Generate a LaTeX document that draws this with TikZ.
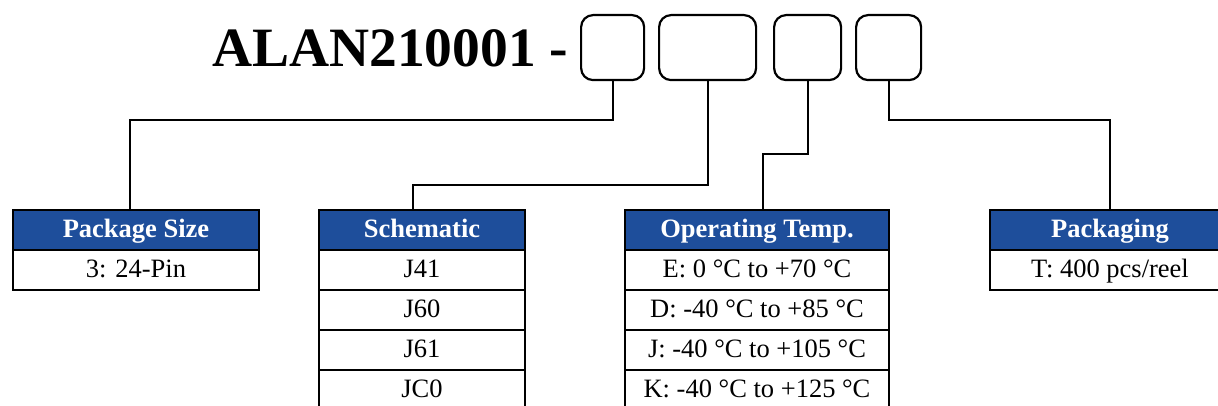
\documentclass[tikz,border=0pt]{standalone}
\usepackage{fontspec}
\setmainfont{Liberation Serif}
\usetikzlibrary{positioning}
\definecolor{hdrblue}{RGB}{30,78,155}
\tikzset{
  codebox/.style={draw, line width=2.2pt, rounded corners=12pt, minimum height=65pt, anchor=north west},
  headcell/.style={draw, line width=2pt, outer sep=0pt, fill=hdrblue, text=white, minimum height=40pt, inner sep=2pt,
    text height=19pt, text depth=5pt, font=\fontsize{26.5}{30}\selectfont\bfseries},
  rowcell/.style={draw, line width=2pt, outer sep=0pt, fill=white, minimum height=40pt, inner sep=2pt,
    text height=19pt, text depth=5pt, font=\fontsize{26.5}{30}\selectfont},
  link/.style={line width=2pt}
}
\begin{document}
\begin{tikzpicture}[x=1pt, y=-1pt]
\useasboundingbox (0,0) rectangle (1218,406);

% Part number
\node[anchor=base west, inner sep=0pt, font=\fontsize{55.5}{60}\selectfont\bfseries] (title) at (212,67) {ALAN210001 -};

% Code boxes
\node[codebox, minimum width=63pt] (b1) at (580,14) {};
\node[codebox, minimum width=97pt] (b2) at (658,14) {};
\node[codebox, minimum width=67pt] (b3) at (773,14) {};
\node[codebox, minimum width=65pt] (b4) at (855,14) {};

% Table headers
\node[headcell, minimum width=246pt, anchor=north west] (hsize) at (13,210) {Package Size};
\node[headcell, minimum width=206pt, anchor=north west] (hschem) at (319,210) {Schematic};
\node[headcell, minimum width=264pt, anchor=north west] (htemp) at (625,210) {Operating Temp.};
\node[headcell, minimum width=240pt, anchor=north west] (hpack) at (990,210) {Packaging};

% Table rows
\node[rowcell, minimum width=246pt, below=0pt of hsize] (size1) {3: 24-Pin};

\node[rowcell, minimum width=206pt, below=0pt of hschem] (schem1) {J41};
\node[rowcell, minimum width=206pt, below=0pt of schem1] (schem2) {J60};
\node[rowcell, minimum width=206pt, below=0pt of schem2] (schem3) {J61};
\node[rowcell, minimum width=206pt, below=0pt of schem3] (schem4) {JC0};

\node[rowcell, minimum width=264pt, below=0pt of htemp] (temp1) {E: 0 °C to +70 °C};
\node[rowcell, minimum width=264pt, below=0pt of temp1] (temp2) {D: -40 °C to +85 °C};
\node[rowcell, minimum width=264pt, below=0pt of temp2] (temp3) {J: -40 °C to +105 °C};
\node[rowcell, minimum width=264pt, below=0pt of temp3] (temp4) {K: -40 °C to +125 °C};

\node[rowcell, minimum width=240pt, below=0pt of hpack] (pack1) {T: 400 pcs/reel};

% Connectors
\draw[link] (b1.south) -- ++(0,39) -| ([xshift=-6pt]hsize.north);
\draw[link] (b2.south) -- ++(0,104) -| ([xshift=-9pt]hschem.north);
\draw[link] (b3.south) -- ++(0,73) -| ([xshift=6pt]htemp.north);
\draw[link] (b4.south) -- ++(0,39) -| (hpack.north);

\end{tikzpicture}
\end{document}
